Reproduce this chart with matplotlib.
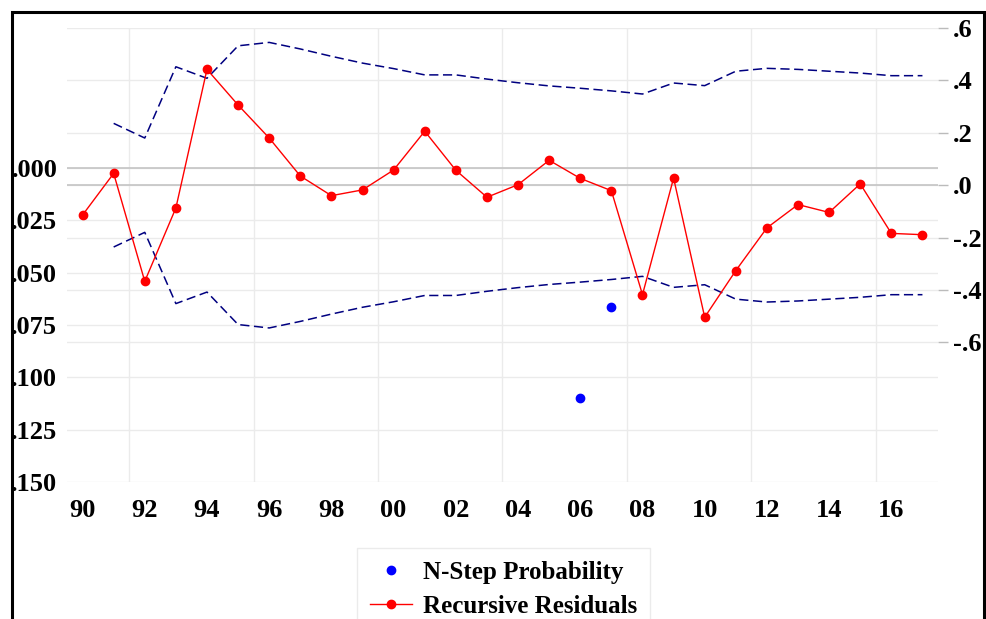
import matplotlib
matplotlib.use("Agg")
import matplotlib.pyplot as plt
import numpy as np
from matplotlib.patches import Rectangle
from matplotlib.lines import Line2D

# ---------------------------------------------------------------------------
# Data (EViews style N-step forecast test)
# ---------------------------------------------------------------------------
years = np.arange(1990, 2018)
recursive_resid = [-0.114, 0.045, -0.367, -0.087, 0.442, 0.306, 0.180, 0.035,
                   -0.040, -0.018, 0.058, 0.206, 0.057, -0.046, 0.002, 0.095,
                   0.026, -0.021, -0.418, 0.027, -0.504, -0.326, -0.163, -0.074,
                   -0.104, 0.005, -0.184, -0.189]

band_years = np.arange(1991, 2018)
upper_band = [0.236, 0.180, 0.452, 0.408, 0.532, 0.545, 0.520, 0.492, 0.466,
              0.445, 0.421, 0.421, 0.405, 0.391, 0.379, 0.370, 0.360, 0.348,
              0.390, 0.380, 0.435, 0.446, 0.442, 0.435, 0.428, 0.418, 0.418]
lower_band = [-v for v in upper_band]

nstep_years = [2006, 2007]
nstep_prob = [0.110, 0.0665]

left_ticks = [0.000, 0.025, 0.050, 0.075, 0.100, 0.125, 0.150]
right_ticks = [0.6, 0.4, 0.2, 0.0, -0.2, -0.4, -0.6]
right_labels = [".6", ".4", ".2", ".0", "-.2", "-.4", "-.6"]
x_ticks = np.arange(1990, 2017, 2)
x_grid = [1991.5, 1995.5, 1999.5, 2003.5, 2007.5, 2011.5, 2015.5]

# ---------------------------------------------------------------------------
W, H = 987, 619
FONT = "Liberation Serif"
GRID = "#ebebeb"
ZERO = "#c4c4c4"

plt.rcParams.update({
    "font.family": FONT,
    "font.weight": "bold",
})

fig = plt.figure(figsize=(W / 100, H / 100), dpi=100)
ax = fig.add_axes([67 / W, 1 - 482 / H, (938 - 67) / W, (482 - 28) / H])
ax2 = ax.twinx()

# left axis: N-step probability (inverted)
ax.set_xlim(1989.5, 2017.5)
ax.set_ylim(0.150, -0.0668)
ax.set_yticks(left_ticks)
ax.set_yticklabels([".%03d" % round(v * 1000) for v in left_ticks])
ax.set_xticks(x_ticks)
ax.set_xticklabels(["%02d" % (y % 100) for y in x_ticks])
ax.set_xticks(x_grid, minor=True)
ax.tick_params(axis="y", length=0, pad=7, labelsize=19)
ax.tick_params(axis="x", which="both", length=0, pad=12, labelsize=19)
ax.grid(axis="y", color=GRID, lw=1)
ax.grid(axis="x", which="minor", color=GRID, lw=1)
ax.axhline(0, color=ZERO, lw=1.2, zorder=1)
ax.plot(nstep_years, nstep_prob, "o", color="#0000ff", ms=6, zorder=3)

# right axis: recursive residuals and +/- 2 S.E. bands
ax2.set_ylim(-1.133, 0.6)
ax2.set_yticks(right_ticks)
ax2.set_yticklabels(right_labels)
ax2.tick_params(axis="y", length=7, width=1, color="#bbbbbb", pad=4, labelsize=19)
ax2.grid(axis="y", color=GRID, lw=1)
ax2.axhline(0, color=ZERO, lw=1.2, zorder=1)
ax2.plot(band_years, upper_band, color="#000080", lw=1.1, dashes=(6, 3))
ax2.plot(band_years, lower_band, color="#000080", lw=1.1, dashes=(6, 3))
ax2.plot(years, recursive_resid, "-o", color="#ff0000", lw=1, ms=6, zorder=4)

for a in (ax, ax2):
    for s in a.spines.values():
        s.set_visible(False)
    a.set_axisbelow(True)

# outer frame (bottom edge runs off the image)
fig.patches.append(Rectangle((12 / W, -0.1), (984 - 12) / W, 1.1 - 12 / H,
                             transform=fig.transFigure, fill=False,
                             edgecolor="black", lw=2.2))

handles = [
    Line2D([], [], ls="none", marker="o", color="#0000ff", ms=6),
    Line2D([], [], ls="-", marker="o", color="#ff0000", lw=1, ms=6),
]
fig.legend(handles, ["N-Step Probability", "Recursive Residuals"],
           loc="upper left", bbox_to_anchor=(357 / W, 1 - 548 / H),
           borderaxespad=0, frameon=True, fancybox=False, edgecolor="#e6e6e6",
           prop={"family": FONT, "weight": "bold", "size": 18},
           handlelength=1.7, handletextpad=0.45, labelspacing=0.45,
           borderpad=0.5)

fig.savefig("out.png", dpi=100)
